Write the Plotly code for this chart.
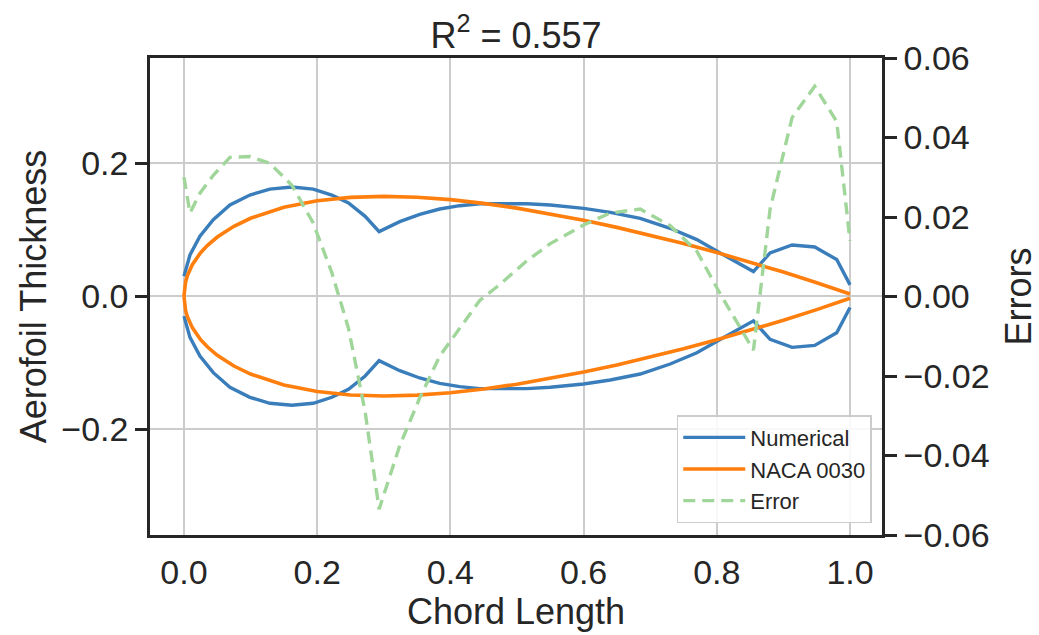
import plotly.graph_objects as go

# ---- data ----
num_x = [0.0, 0.009, 0.024, 0.044, 0.069, 0.099, 0.129, 0.162, 0.194, 0.222, 0.247, 0.272,
         0.293, 0.324, 0.354, 0.384, 0.414, 0.444, 0.474, 0.515, 0.550, 0.600, 0.640, 0.685,
         0.730, 0.770, 0.805, 0.855, 0.880, 0.913, 0.947, 0.980, 1.0]
num_upper = [0.030, 0.062, 0.090, 0.115, 0.137, 0.152, 0.161, 0.164, 0.161, 0.152, 0.140, 0.120,
             0.097, 0.112, 0.123, 0.131, 0.136, 0.139, 0.139, 0.139, 0.137, 0.132, 0.126, 0.117,
             0.102, 0.085, 0.065, 0.037, 0.065, 0.077, 0.074, 0.055, 0.017]
num_lower = [-v for v in num_upper]

naca_x = [0.0, 0.0025, 0.005, 0.01, 0.0125, 0.025, 0.035, 0.05, 0.075, 0.1, 0.15, 0.2, 0.25,
          0.3, 0.35, 0.4, 0.45, 0.5, 0.55, 0.6, 0.65, 0.7, 0.75, 0.8, 0.85, 0.9, 0.95, 1.0]
naca_upper = [0.0, 0.0218, 0.0305, 0.0426, 0.0473, 0.0654, 0.0761, 0.0889, 0.1050, 0.1171,
              0.1336, 0.1434, 0.1485, 0.1500, 0.1487, 0.1451, 0.1395, 0.1323, 0.1238, 0.1141,
              0.1034, 0.0916, 0.0791, 0.0656, 0.0513, 0.0362, 0.0202, 0.0032]
naca_lower = [-v for v in naca_upper]

err = [0.0300, 0.0210, 0.0260, 0.0305, 0.0350, 0.0352, 0.0335, 0.0280, 0.0185, 0.0060,
       -0.0080, -0.0290, -0.0535, -0.0375, -0.0255, -0.0150, -0.0080, -0.0010, 0.0030,
       0.0090, 0.0133, 0.0180, 0.0210, 0.0220, 0.0178, 0.0114, 0.0007, -0.0135, 0.0220,
       0.0450, 0.0529, 0.0440, 0.0140]

x_ticks = [0.0, 0.2, 0.4, 0.6, 0.8, 1.0]
x_labels = ["0.0", "0.2", "0.4", "0.6", "0.8", "1.0"]
y_ticks = [-0.2, 0.0, 0.2]
y_labels = ["\u22120.2", "0.0", "0.2"]
y2_ticks = [-0.06, -0.04, -0.02, 0.0, 0.02, 0.04, 0.06]
y2_labels = ["\u22120.06", "\u22120.04", "\u22120.02", "0.00", "0.02", "0.04", "0.06"]

BLUE = "#3a7dbb"
ORANGE = "#ff7f0e"
GREEN = "#a0d69a"
DARK = "#262626"
FONT = "Liberation Sans, Arial, sans-serif"

fig = go.Figure()
fig.add_trace(go.Scatter(x=num_x, y=num_upper, mode="lines", name="Numerical",
                         line=dict(color=BLUE, width=3.4), legendgroup="n"))
fig.add_trace(go.Scatter(x=num_x, y=num_lower, mode="lines", name="Numerical",
                         line=dict(color=BLUE, width=3.4), legendgroup="n", showlegend=False))
fig.add_trace(go.Scatter(x=naca_x, y=naca_upper, mode="lines", name="NACA 0030",
                         line=dict(color=ORANGE, width=3.6), legendgroup="a"))
fig.add_trace(go.Scatter(x=naca_x, y=naca_lower, mode="lines", name="NACA 0030",
                         line=dict(color=ORANGE, width=3.6), legendgroup="a", showlegend=False))
fig.add_trace(go.Scatter(x=num_x, y=err, mode="lines", name="Error", yaxis="y2",
                         line=dict(color=GREEN, width=3.4, dash="12px,7px")))

fig.update_layout(
    width=1039, height=635,
    margin=dict(l=150, r=157, t=58, b=100, autoexpand=False),
    paper_bgcolor="white", plot_bgcolor="white",
    font=dict(family=FONT, color=DARK, size=34),
    title=dict(text="R<sup>2</sup> = 0.557", x=0.5, xref="paper", xanchor="center",
               y=0.945, yref="container", yanchor="middle", font=dict(size=36, color=DARK)),
    xaxis=dict(range=[-0.051, 1.048], tickvals=x_ticks, ticktext=x_labels,
               showgrid=True, gridcolor="#cccccc", gridwidth=2, zeroline=False,
               showline=True, linecolor=DARK, linewidth=2.5, mirror=True,
               ticks="outside", ticklen=5, tickcolor="rgba(0,0,0,0)",
               tickfont=dict(size=34, color=DARK),
               title=dict(text="Chord Length", font=dict(size=36, color=DARK), standoff=10),
               automargin=False),
    yaxis=dict(range=[-0.359, 0.358], tickvals=y_ticks, ticktext=y_labels,
               showgrid=True, gridcolor="#cccccc", gridwidth=2, zeroline=False,
               showline=True, linecolor=DARK, linewidth=2.5,
               ticks="outside", ticklen=12, tickwidth=2.5, tickcolor=DARK,
               tickfont=dict(size=34, color=DARK),
               title=dict(text="Aerofoil Thickness", font=dict(size=36, color=DARK), standoff=4),
               automargin=False),
    yaxis2=dict(range=[-0.06, 0.06], tickvals=y2_ticks, ticktext=y2_labels,
                overlaying="y", side="right", showgrid=False, zeroline=False,
                showline=True, linecolor=DARK, linewidth=2.5,
                ticks="outside", ticklen=12, tickwidth=2.5, tickcolor=DARK,
                tickfont=dict(size=34, color=DARK),
                title=dict(text="Errors", font=dict(size=36, color=DARK), standoff=18),
                automargin=False),
    legend=dict(x=0.986, y=0.025, xanchor="right", yanchor="bottom",
                bgcolor="rgba(255,255,255,0.85)", bordercolor="#cccccc", borderwidth=1.5,
                font=dict(size=22, color=DARK), itemwidth=62, tracegroupgap=0),
    showlegend=True,
)

fig.write_html("out.html")
